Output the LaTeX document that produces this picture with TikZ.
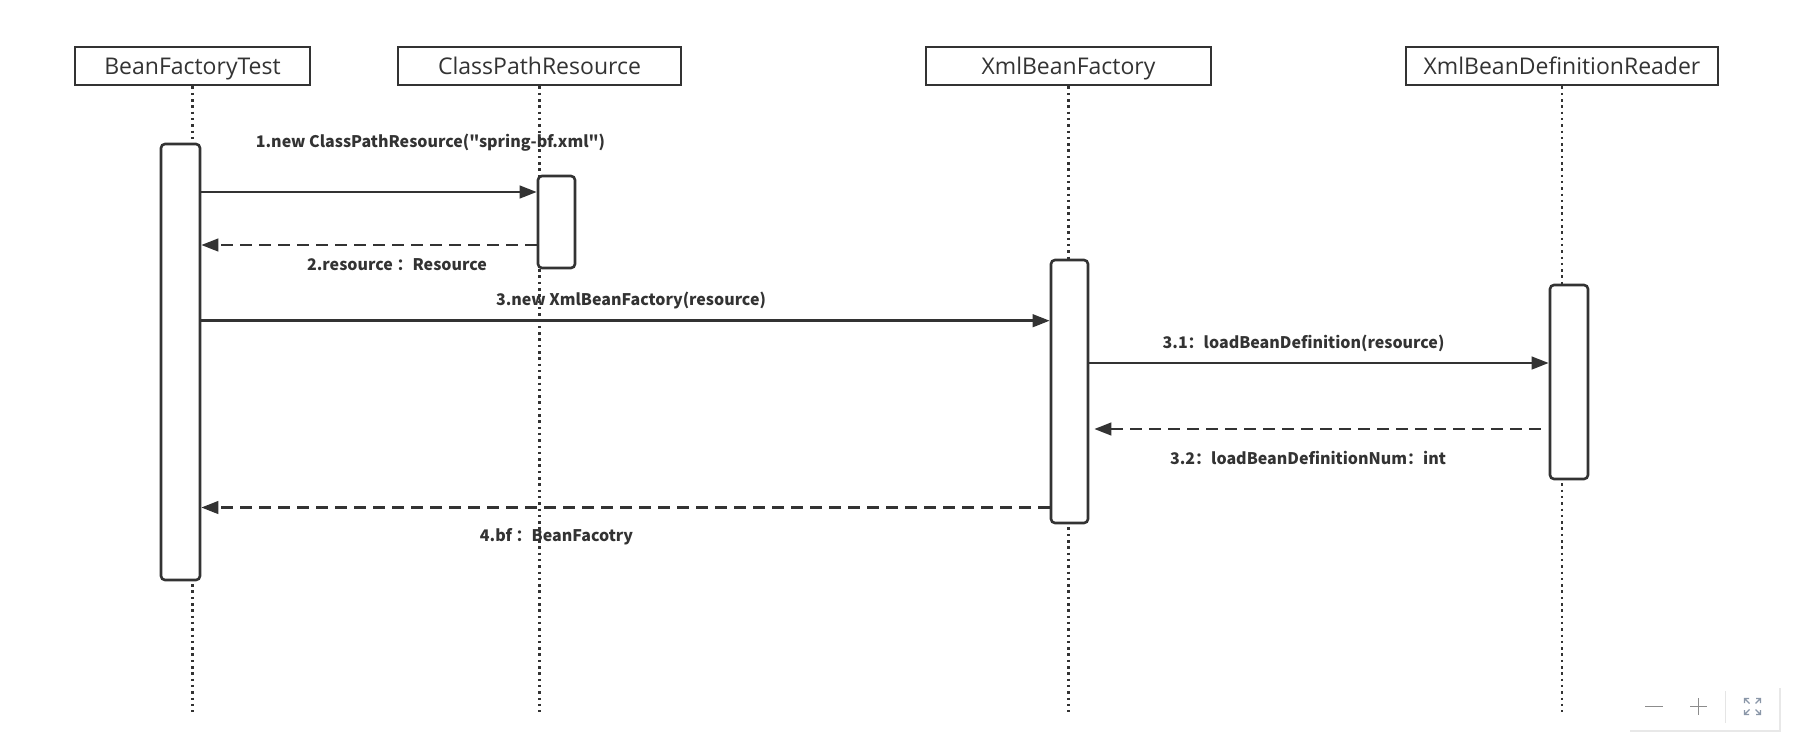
\documentclass[tikz,border=0pt]{standalone}
\usepackage{fontspec}
\setmainfont{Open Sans}
\newfontfamily\lblfont{Noto Sans CJK SC}
\usetikzlibrary{arrows.meta,calc}
\definecolor{ink}{HTML}{333333}
\definecolor{tbicon}{HTML}{8C8C8C}
\definecolor{tbblue}{HTML}{8A97A8}
\begin{document}
\begin{tikzpicture}[x=1pt,y=-1pt,
  head/.style={draw=ink,line width=2.9pt,fill=white,minimum height=38pt,inner sep=0pt,
    text height=16.5pt,text depth=0pt,font=\fontsize{23}{27}\selectfont,text=ink},
  act/.style={draw=ink,line width=2.6pt,fill=white,rounded corners=4pt,inner sep=0pt},
  life/.style={draw=ink,line width=2.5pt,dash pattern=on 2.5pt off 3.8pt},
  msg/.style={draw=ink,line width=2.7pt,-{Triangle[length=17pt,width=12.5pt]}},
  ret/.style={msg,dash pattern=on 12pt off 7pt},
  lbl/.style={font=\lblfont\bfseries\fontsize{16}{20}\selectfont,text=ink,inner sep=0pt}
]
\useasboundingbox (0,0) rectangle (1802,753);
\fill[white] (0,0) rectangle (1802,753);

% heads
\node[head,minimum width=235pt] (h1) at (192.5,66) {BeanFactoryTest};
\node[head,minimum width=283pt] (h2) at (539.5,66) {ClassPathResource};
\node[head,minimum width=285pt] (h3) at (1068.5,66) {XmlBeanFactory};
\node[head,minimum width=312pt] (h4) at (1562,66) {XmlBeanDefinitionReader};

% lifeline ends
\coordinate (e1) at (192.5,712);
\coordinate (e2) at (539.5,712);
\coordinate (e3) at (1068.5,712);
\coordinate (e4) at (1562,712);
\draw[life] (h1.south) -- (e1);
\draw[life] (h2.south) -- (e2);
\draw[life] (h3.south) -- (e3);
\draw[life] (h4.south) -- (e4);

% activations
\node[act,minimum width=39pt,minimum height=436pt] (a1) at (180.5,362) {};
\node[act,minimum width=37pt,minimum height=92pt] (a2) at (556.5,222) {};
\node[act,minimum width=37pt,minimum height=263pt] (a3) at (1069.5,391.5) {};
\node[act,minimum width=38pt,minimum height=194pt] (a4) at (1569,382) {};

% messages
\draw[msg] (a1.east |- 0,192) -- (a2.west |- 0,192);
\draw[ret] (a2.west |- 0,245) -- (a1.east |- 0,245);
\draw[msg] (a1.east |- 0,320.7) -- (a3.west |- 0,320.7);
\draw[msg] (a3.east |- 0,363) -- (a4.west |- 0,363);
\draw[ret] ($(a4.west |- 0,429)+(-8,0)$) -- ($(a3.east |- 0,429)+(5,0)$);
\draw[ret] (a3.west |- 0,507.5) -- (a1.east |- 0,507.5);

% labels
\node[lbl] (l1) at (430.5,143) {1.new ClassPathResource("spring-bf.xml")};
\node[lbl] (l2) at (397,265) {2.resource ：Resource};
\node[lbl] (l3) at (631,300.7) {3.new XmlBeanFactory(resource)};
\node[lbl] (l31) at (1303.5,343) {3.1：loadBeanDefinition(resource)};
\node[lbl] (l32) at (1308,458) {3.2：loadBeanDefinitionNum：int};
\node[lbl] (l4) at (556.5,537) {4.bf ：BeanFacotry};

% zoom toolbar
\fill[black!9] (1630,687.5) rectangle (1780.5,731.5);
\fill[white] (1628,685) rectangle (1779,730);
\draw[tbicon,line width=1.4pt] (1645,706.5) -- (1663,706.5);
\draw[tbicon,line width=1.4pt] (1690,706.5) -- (1707,706.5) (1698.5,698) -- (1698.5,715);
\draw[black!10,line width=1pt] (1725,691) -- (1725,723);
\begin{scope}[tbblue,line width=1.3pt]
  \draw (1744.5,703) -- (1744.5,698.5) -- (1749,698.5) (1744.5,698.5) -- (1749.5,703.5);
  \draw (1756,698.5) -- (1760.5,698.5) -- (1760.5,703) (1760.5,698.5) -- (1755.5,703.5);
  \draw (1744.5,710) -- (1744.5,714.5) -- (1749,714.5) (1744.5,714.5) -- (1749.5,709.5);
  \draw (1756,714.5) -- (1760.5,714.5) -- (1760.5,710) (1760.5,714.5) -- (1755.5,709.5);
\end{scope}
\end{tikzpicture}
\end{document}
